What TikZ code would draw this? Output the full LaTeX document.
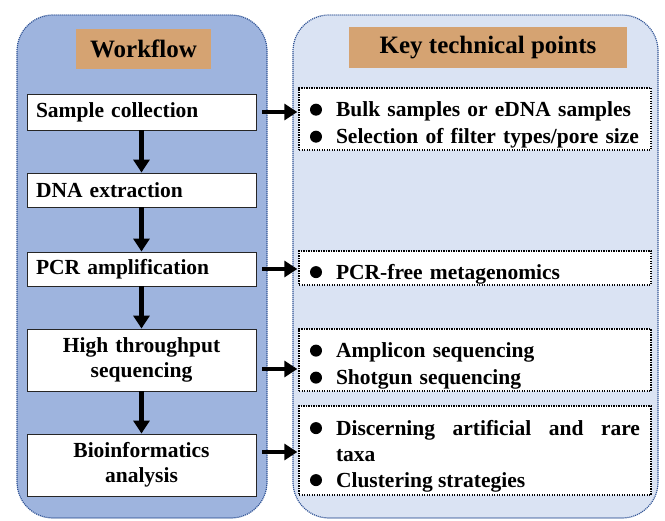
\documentclass[tikz,border=0pt]{standalone}
\usepackage{fontspec}
\setmainfont{Liberation Serif}
\usetikzlibrary{arrows.meta}

\definecolor{wfpanel}{RGB}{158,180,222}
\definecolor{kppanel}{RGB}{218,227,243}
\definecolor{panelline}{RGB}{50,85,150}
\definecolor{titlefill}{RGB}{213,163,114}

% round bullet followed by the hanging text
\newcommand\kdot{\makebox[26pt][l]{\tikz[baseline={(0pt,-7pt)}]\fill (6pt,0pt) circle[radius=6pt];}}
\newcommand\kitem{\par\hangindent=26pt\hangafter=1\noindent\kdot}

\begin{document}
\begin{tikzpicture}[x=1pt,y=-1pt,
  font=\bfseries\fontsize{21.5}{27}\selectfont,
  panel/.style={draw=panelline, line width=1.2pt, dash pattern=on 1.1pt off 0.9pt, rounded corners=36pt},
  titlebox/.style={fill=titlefill, inner sep=0pt, font=\bfseries\fontsize{25}{30}\selectfont},
  wfbox/.style={draw=black!85, line width=0.9pt, fill=white, inner xsep=9pt, inner ysep=0pt,
                minimum width=229, text width=211},
  kbox/.style={draw=black, line width=1.4pt, dash pattern=on 1.4pt off 1.1pt, fill=white,
               inner xsep=11pt, inner ysep=0pt, minimum width=352, text width=330, align=left},
  flow/.style={line width=4.6pt, -{Triangle[width=16pt,length=13pt]}},
]
\useasboundingbox (0,0) rectangle (665,521);

% two background panels
\path[panel, fill=wfpanel] (17,15) rectangle (267,518);
\path[panel, fill=kppanel] (293,15) rectangle (658,518);

% panel headings
\node[titlebox, minimum width=135, minimum height=40] (wft) at (143.5,49) {Workflow};
\node[titlebox, minimum width=278, minimum height=41] (kpt) at (488,47.5) {Key technical points};

% workflow steps
\node[wfbox, align=left, minimum height=36] (s1) at (141.5,112) {Sample collection};
\node[wfbox, align=left, minimum height=34] (s2) at (141.5,190) {DNA extraction};
\node[wfbox, align=left, minimum height=34] (s3) at (141.5,269) {PCR amplification};
\node[wfbox, align=center, minimum height=62, font=\bfseries\fontsize{21.5}{25}\selectfont] (s4) at (141.5,360) {High throughput\\sequencing};
\node[wfbox, align=center, minimum height=62, font=\bfseries\fontsize{21.5}{25}\selectfont] (s5) at (141.5,465) {Bioinformatics\\analysis};

% technical points
\node[kbox, minimum height=62] (k1) at (475,119)
  {\kitem Bulk samples or eDNA samples\kitem Selection of filter types/pore size};
\node[kbox, minimum height=34] (k2) at (475,268)
  {\kitem PCR-free metagenomics};
\node[kbox, minimum height=62] (k3) at (475,360)
  {\kitem Amplicon sequencing\kitem Shotgun sequencing};
\node[kbox, minimum height=89, align=justify, font=\bfseries\fontsize{21.5}{26}\selectfont] (k4) at (475,450.5)
  {\kitem Discerning artificial and rare\linebreak taxa\kitem Clustering strategies};

% workflow arrows
\draw[flow] (s1.south) -- (s2.north);
\draw[flow] (s2.south) -- (s3.north);
\draw[flow] (s3.south) -- (s4.north);
\draw[flow] (s4.south) -- (s5.north);

% links to technical points
\draw[flow, shorten <=6pt, shorten >=1pt] (s1.east) -- (s1.east -| k1.west);
\draw[flow, shorten <=6pt, shorten >=1pt] (s3.east) -- (s3.east -| k2.west);
\draw[flow, shorten <=6pt, shorten >=1pt] ([yshift=-9pt]s4.east) -- ([yshift=-9pt]s4.east -| k3.west);
\draw[flow, shorten <=6pt, shorten >=1pt] ([yshift=13pt]s5.east) -- ([yshift=13pt]s5.east -| k4.west);
\end{tikzpicture}
\end{document}
